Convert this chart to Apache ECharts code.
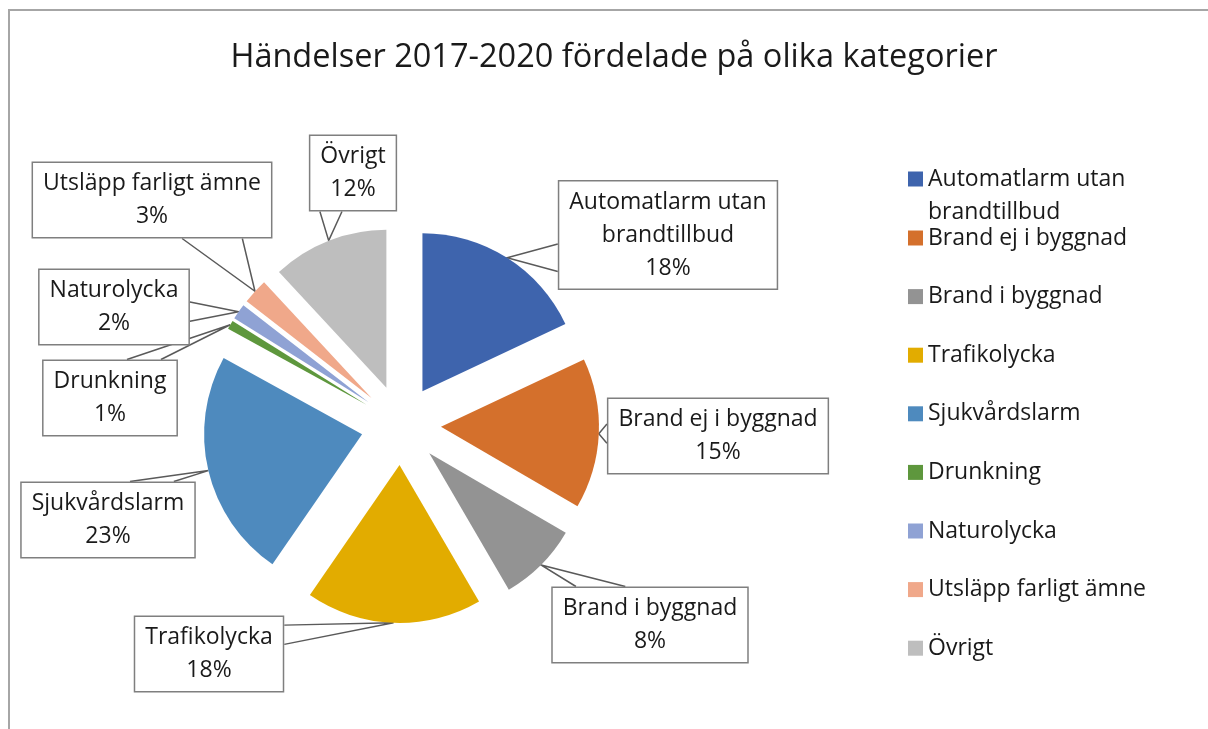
<!DOCTYPE html>
<html>
<head>
<meta charset="utf-8">
<script src="https://cdn.jsdelivr.net/npm/echarts@6/dist/echarts.min.js"></script>
<style>
  html, body { margin: 0; padding: 0; background: #fff; }
  #chart { width: 1208px; height: 729px; }
</style>
</head>
<body>
<div id="chart"></div>
<script>
// kategorier och andelar (%), avlästa ur bildens vinklar
const categories = ['Automatlarm utan brandtillbud', 'Brand ej i byggnad', 'Brand i byggnad', 'Trafikolycka',
  'Sjukvårdslarm', 'Drunkning', 'Naturolycka', 'Utsläpp farligt ämne', 'Övrigt'];
const shares = [18.0, 15.4, 8.2, 18.0, 23.4, 0.9, 1.6, 2.6, 11.9];
const colors = ['#3e64ad', '#d4702c', '#939393', '#e2ac00', '#4e8abe', '#5e973d', '#8fa2d4', '#f0a88a', '#bebebe'];
const titleText = 'Händelser 2017-2020 fördelade på olika kategorier';

// var callout-rutorna ligger (mittpunkt)
const calloutCenters = [[668, 235], [718, 436], [650, 625], [209, 654], [108, 520], [110, 398], [114, 307], [152, 200], [353, 173]];

const CX = 401, CY = 425, R = 158, OFFSET = 40;
const FONT = 'Open Sans';
const LH = 33;

const total = shares.reduce((a, b) => a + b, 0);
const midAngles = [];
let acc = 0;
shares.forEach(v => { midAngles.push((acc + v / 2) / total * 2 * Math.PI); acc += v; });

const clamp = (v, lo, hi) => Math.max(lo, Math.min(hi, v));
const wrap = name => name.length > 24 ? name.slice(0, name.lastIndexOf(' ')) + '\n' + name.slice(name.lastIndexOf(' ') + 1) : name;

// varje tårtbit flyttas ut längs sin mittvinkel (exploderad tårta)
const sliceCenter = i => [CX + OFFSET * Math.sin(midAngles[i]), CY - OFFSET * Math.cos(midAngles[i])];

// spetsen på pratbubblan = mitten av bitens båge
function tipOf(i) {
  const c = sliceCenter(i), a = midAngles[i];
  return [c[0] + R * Math.sin(a), c[1] - R * Math.cos(a)];
}

function wedge(box, tip) {
  const cx = box.x + box.w / 2, cy = box.y + box.h / 2;
  const dx = tip[0] - cx, dy = tip[1] - cy;
  if (Math.abs(dx) / (box.w / 2) > 1.2 * Math.abs(dy) / (box.h / 2)) {
    const x = dx > 0 ? box.x + box.w : box.x;
    const m = clamp(tip[1], box.y + box.h * 0.25, box.y + box.h * 0.75);
    const hw = box.h * 0.125;
    return [[x, m - hw], tip, [x, m + hw]];
  }
  const y = dy > 0 ? box.y + box.h : box.y;
  const m = clamp(tip[0], box.x + box.w * 0.25, box.x + box.w * 0.75);
  const hw = box.w * 0.125;
  return [[m - hw, y], tip, [m + hw, y]];
}

const hidden = {
  itemStyle: { color: 'rgba(0,0,0,0)', borderWidth: 0 },
  label: { show: false },
  labelLine: { show: false }
};

const pieSeries = categories.map((cat, k) => ({
  type: 'pie',
  center: sliceCenter(k),
  radius: R,
  avoidLabelOverlap: false,
  emphasis: { disabled: true },
  itemStyle: { borderWidth: 0 },
  label: {
    show: true,
    position: 'outside',
    formatter: p => wrap(p.name) + '\n' + Math.round(p.percent) + '%',
    fontFamily: FONT,
    fontSize: 23,
    lineHeight: LH,
    color: '#1a1a1a',
    align: 'center',
    backgroundColor: '#fff',
    borderColor: '#7f7f7f',
    borderWidth: 1.5,
    padding: [7, 10, 1, 10]
  },
  labelLine: { show: true, lineStyle: { color: '#5a5a5a', width: 1.5 } },
  labelLayout: params => {
    const i = params.dataIndex;
    const w = params.labelRect.width, h = params.labelRect.height;
    const c = calloutCenters[i];
    const box = { x: c[0] - w / 2, y: c[1] - h / 2, w: w, h: h };
    return {
      x: c[0], y: c[1], align: 'center', verticalAlign: 'middle',
      labelLinePoints: wedge(box, tipOf(i))
    };
  },
  data: categories.map((name, i) => i === k
    ? { name: name, value: shares[i], itemStyle: { color: colors[i] } }
    : Object.assign({ name: name, value: shares[i] }, hidden))
}));

const legendText = { fontFamily: FONT, fontSize: 23, color: '#1a1a1a', lineHeight: LH };

const chart = echarts.init(document.getElementById('chart'));

chart.setOption({
  animation: false,
  title: {
    text: titleText,
    left: 614,
    top: 36,
    padding: 0,
    textAlign: 'center',
    textStyle: { fontFamily: FONT, fontSize: 32.5, fontWeight: 'normal', color: '#1a1a1a', lineHeight: 44 }
  },
  graphic: [{
    type: 'rect',
    shape: { x: 9, y: 10, width: 1300, height: 900 },
    style: { fill: 'none', stroke: '#a6a6a6', lineWidth: 2 },
    silent: true
  }],
  legend: [{
    orient: 'vertical',
    left: 908,
    top: 179 - 1.5 * LH,
    padding: 0,
    itemWidth: 15,
    itemHeight: 15,
    icon: 'rect',
    // tom första rad så att rutan hamnar vid första textraden
    formatter: name => '\n' + wrap(name),
    textStyle: legendText,
    data: [{ name: categories[0], itemStyle: { color: colors[0] } }]
  }, {
    orient: 'vertical',
    left: 908,
    top: 238 - LH / 2,
    padding: 0,
    itemWidth: 15,
    itemHeight: 15,
    itemGap: 58.6 - LH,
    icon: 'rect',
    textStyle: legendText,
    data: categories.slice(1).map((name, i) => ({ name: name, itemStyle: { color: colors[i + 1] } }))
  }],
  series: pieSeries
});
</script>
</body>
</html>
